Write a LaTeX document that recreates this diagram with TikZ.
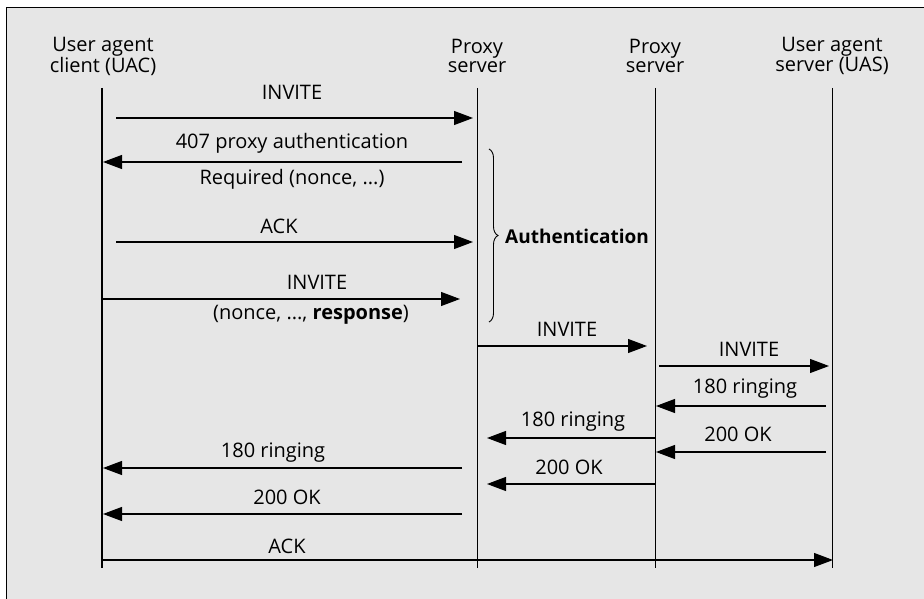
\documentclass[tikz,border=0pt]{standalone}
\usepackage{fontspec}
\setmainfont{Open Sans}
\usetikzlibrary{arrows.meta,decorations.pathreplacing}
\definecolor{panel}{HTML}{E6E6E6}

\begin{document}
\begin{tikzpicture}[x=1pt,y=-1pt,font=\fontsize{20}{22}\selectfont]
	\tikzstyle{msg}=[-{Triangle[length=19pt,width=14pt]},line width=1.1pt]
	\tikzstyle{lifeline}=[line width=0.9pt]
	\tikzstyle{lbl}=[inner sep=0pt]
	\tikzstyle{head}=[align=center,inner sep=0pt,font=\fontsize{20}{19}\selectfont]

	\useasboundingbox (0,0) rectangle (924,599);
	\fill[panel] (6,8) rectangle (924,599);
	\draw[line width=1pt] (6,599) -- (6,8) -- (924,8);

	% lifelines
	\node[head] (uac) at (103,56) {User agent\\client (UAC)};
	\node[head] (px1) at (477,56) {Proxy\\server};
	\node[head] (px2) at (655,56) {Proxy\\server};
	\node[head] (uas) at (832,56) {User agent\\server (UAS)};

	\draw[lifeline,line width=2.2pt] (102,88) coordinate (uacT) -- (102,568) coordinate (uacB);
	\draw[lifeline] (477,88) coordinate (px1T) -- (477,568) coordinate (px1B);
	\draw[lifeline] (655,88) coordinate (px2T) -- (655,568) coordinate (px2B);
	\draw[lifeline] (832,88) coordinate (uasT) -- (832,568) coordinate (uasB);

	% messages
	\foreach \n/\xa/\xb/\y/\lx/\ly/\t in {
		1/116/473/118/292/92/INVITE,
		2/462/103/162/292/143/407 proxy authentication,
		3/116/473/242/279/226/ACK,
		4/102/460/299/317/282/INVITE,
		5/477/647/346/567/329/INVITE,
		6/659/829/366/749/349/INVITE,
		7/826/656/406/745/389/180 ringing,
		8/655/487/438/573/422/180 ringing,
		9/826/656/452/738/434/200 OK,
		10/462/103/468/273/453/180 ringing,
		11/655/487/484/569/467/200 OK,
		12/462/103/514/287/497/200 OK,
		13/102/833/560/287/546/ACK}{
		\coordinate (s\n) at (\xa,\y);
		\coordinate (e\n) at (\xb,\y);
		\draw[msg] (s\n) -- (e\n);
		\node[lbl] (t\n) at (\lx,\ly) {\t};
	}
	\node[lbl] (req) at (292,179) {Required (nonce, ...)};
	\node[lbl] (resp) at (311,315) {(nonce, ..., \textbf{response})};

	% authentication brace
	\coordinate (brT) at (489,149);
	\coordinate (brB) at (489,322);
	\draw[line width=0.9pt,decorate,decoration={brace,amplitude=9pt}] (brT) -- (brB);
	\node[lbl,anchor=west,font=\fontsize{19}{20}\selectfont\bfseries] (auth) at (505,236) {Authentication};
\end{tikzpicture}
\end{document}
